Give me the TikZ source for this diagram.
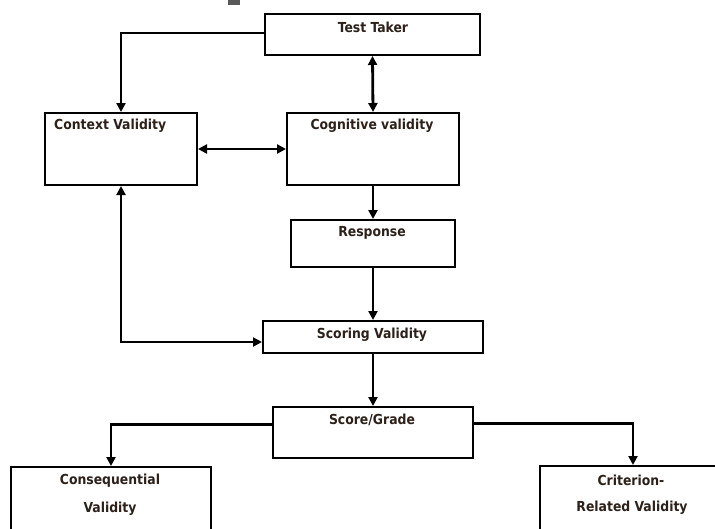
\documentclass[tikz,border=0pt]{standalone}
\usepackage{fontspec}
\setmainfont{DejaVu Sans Condensed}
\usetikzlibrary{arrows.meta}
\definecolor{txt}{RGB}{45,32,25}
\tikzset{
  box/.style={draw=black, line width=2pt, rectangle, inner sep=0pt, fill=white},
  lbl/.style={text=txt, font=\bfseries\fontsize{13.8}{15}\selectfont, inner sep=0pt},
  conn/.style={line width=2.8pt, -{Triangle[length=9pt,width=9pt]}},
  both/.style={line width=2.8pt, {Triangle[length=9pt,width=9pt]}-{Triangle[length=9pt,width=9pt]}}
}
\begin{document}
\begin{tikzpicture}[x=1pt,y=-1pt]
\clip (0,0) rectangle (715,528);
\fill[white] (0,0) rectangle (715,528);
\fill[gray!70!black] (228,0) rectangle (240,5);
% boxes
\node[box, minimum width=215pt, minimum height=41pt] (tt) at (372.5,34.5) {};
\node[box, minimum width=152pt, minimum height=72pt] (cv) at (121,149) {};
\node[box, minimum width=172pt, minimum height=72pt] (cg) at (373,149) {};
\node[box, minimum width=164pt, minimum height=47pt] (rs) at (373,243.5) {};
\node[box, minimum width=220pt, minimum height=32pt] (sv) at (373,337) {};
\node[box, minimum width=200pt, minimum height=51pt] (sg) at (373,432.5) {};
\node[box, minimum width=200pt, minimum height=66pt] (cq) at (111,500) {};
\node[box, minimum width=190pt, minimum height=67pt] (cr) at (635,499.5) {};
% labels
\node[lbl] (ttl) at (373,27) {Test Taker};
\node[lbl, anchor=west] (cvl) at (54,126) {Context Validity};
\node[lbl] (cgl) at (372,126) {Cognitive validity};
\node[lbl] (rsl) at (372,233) {Response};
\node[lbl] (svl) at (372,335) {Scoring Validity};
\node[lbl] (sgl) at (372,420) {Score/Grade};
\node[lbl] (cql1) at (110,481) {Consequential};
\node[lbl] (cql2) at (110,509) {Validity};
\node[lbl] (crl1) at (631,480) {Criterion-};
\node[lbl] (crl2) at (632,508) {Related Validity};
% connectors
\draw[conn] ([yshift=1.5pt]tt.west) -| (cv.north);
\draw[both] (tt.south) -- (cg.north);
\draw[both] (cv.east) -- (cg.east -| cg.west);
\draw[conn] (cg.south) -- (rs.north);
\draw[conn] (rs.south) -- (sv.north);
\draw[both] (cv.south) |- ([yshift=-5pt]sv.west);
\draw[conn] (sv.south) -- (sg.north);
\draw[conn] ([yshift=8pt]sg.west) -| (cq.north);
\draw[conn] ([yshift=9pt]sg.east) -| ([xshift=-2pt]cr.north);
\end{tikzpicture}
\end{document}
